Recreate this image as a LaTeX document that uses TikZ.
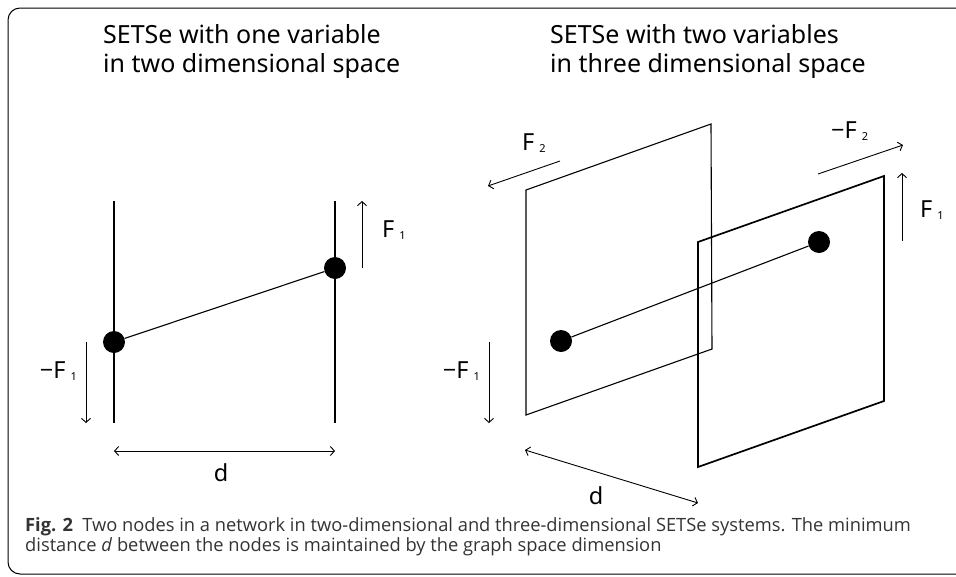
\documentclass[tikz,border=0pt]{standalone}
\usepackage{fontspec}
\usetikzlibrary{arrows.meta}
\setmainfont{Noto Sans}
\newfontfamily\captionfont{Open Sans}
\newcommand{\sub}[1]{\hspace{5pt}\raisebox{-2pt}{\fontsize{11}{11}\selectfont #1}}
\begin{document}
\begin{tikzpicture}[x=1pt, y=-1pt,
	dot/.style={circle, fill=black, inner sep=0pt, minimum size=22pt},
	rail/.style={line width=1.9pt},
	thinline/.style={line width=1.1pt},
	frontplane/.style={line width=1.7pt},
	force/.style={->, line width=0.9pt, >={Straight Barb[length=4pt, width=9pt]}},
	forcelabel/.style={font=\fontsize{23.5}{23.5}\selectfont, inner sep=0pt},
	title/.style={font=\fontsize{25}{29}\selectfont, align=left, inner sep=0pt, anchor=north west}]

	\useasboundingbox (0,0) rectangle (956,576);

	% Draw frame
	\draw[line width=1pt, rounded corners=12pt] (970,8) -- (8,8) -- (8,574) -- (970,574);

	% Draw titles
	\node[title] (t1) at (103,24) {SETSe with one variable\\in two dimensional space};
	\node[title] (t2) at (550,24) {SETSe with two variables\\in three dimensional space};

	% Left picture: two rails
	\coordinate (r1a) at (114,201);
	\coordinate (r1b) at (114,423);
	\coordinate (r2a) at (335,201);
	\coordinate (r2b) at (335,423);
	\draw[rail] (r1a) -- (r1b);
	\draw[rail] (r2a) -- (r2b);

	\node[dot] (u1) at (114,342) {};
	\node[dot] (u2) at (335,268) {};
	\draw[thinline] (u1) -- (u2);

	% Left picture: forces and distance
	\coordinate (f1a) at (362,268);
	\coordinate (f1b) at (362,201);
	\draw[force] (f1a) -- (f1b);
	\node[forcelabel, anchor=west] (lf1) at (382,230) {F\sub{1}};

	\coordinate (g1a) at (86,342);
	\coordinate (g1b) at (86,423);
	\draw[force] (g1a) -- (g1b);
	\node[forcelabel, anchor=east] (lg1) at (77,371) {−F\sub{1}};

	\draw[force, <->] (r1b |- 0,451) coordinate (da) -- (r2b |- 0,451) coordinate (db);
	\node[forcelabel] (ld) at (221,473) {d};

	% Right picture: back plane
	\coordinate (p1) at (526,190);
	\coordinate (p2) at (711,124);
	\coordinate (p3) at (712,349);
	\coordinate (p4) at (526,415);
	\draw[thinline] (p1) -- (p2) -- (p3) -- (p4) -- cycle;

	% Right picture: front plane
	\coordinate (q1) at (698,242);
	\coordinate (q2) at (884,176);
	\coordinate (q3) at (884,401);
	\coordinate (q4) at (698,467);
	\draw[frontplane] (q1) -- (q2) -- (q3) -- (q4) -- cycle;

	\node[dot] (v1) at (561,341) {};
	\node[dot] (v2) at (819,242) {};
	\draw[thinline] (v1) -- (v2);

	% Right picture: forces and distance
	\coordinate (f2a) at (560,161);
	\coordinate (f2b) at (488,186);
	\draw[force] (f2a) -- (f2b);
	\node[forcelabel, anchor=west] (lf2) at (522,143) {F\sub{2}};

	\coordinate (g2a) at (818,174);
	\coordinate (g2b) at (903,145);
	\draw[force] (g2a) -- (g2b);
	\node[forcelabel, anchor=west] (lg2) at (831,131) {−F\sub{2}};

	\coordinate (f3a) at (902,241);
	\coordinate (f3b) at (902,173);
	\draw[force] (f3a) -- (f3b);
	\node[forcelabel, anchor=west] (lf3) at (920,210) {F\sub{1}};

	\coordinate (g3a) at (489,342);
	\coordinate (g3b) at (489,423);
	\draw[force] (g3a) -- (g3b);
	\node[forcelabel, anchor=east] (lg3) at (480,371) {−F\sub{1}};

	\coordinate (ea) at (525,450);
	\coordinate (eb) at (698,503);
	\draw[force, <->] (ea) -- (eb);
	\node[forcelabel] (le) at (596,496) {d};

	% Caption
	\node[anchor=base west, inner sep=0pt, align=left, text=black!80,
		font=\captionfont\fontsize{18.3}{17.5}\selectfont] (cap) at (25,551)
		{\textbf{Fig. 2}\enspace Two nodes in a network in two-dimensional and three-dimensional SETSe systems. The minimum\\
		distance \textit{d} between the nodes is maintained by the graph space dimension};
\end{tikzpicture}
\end{document}
